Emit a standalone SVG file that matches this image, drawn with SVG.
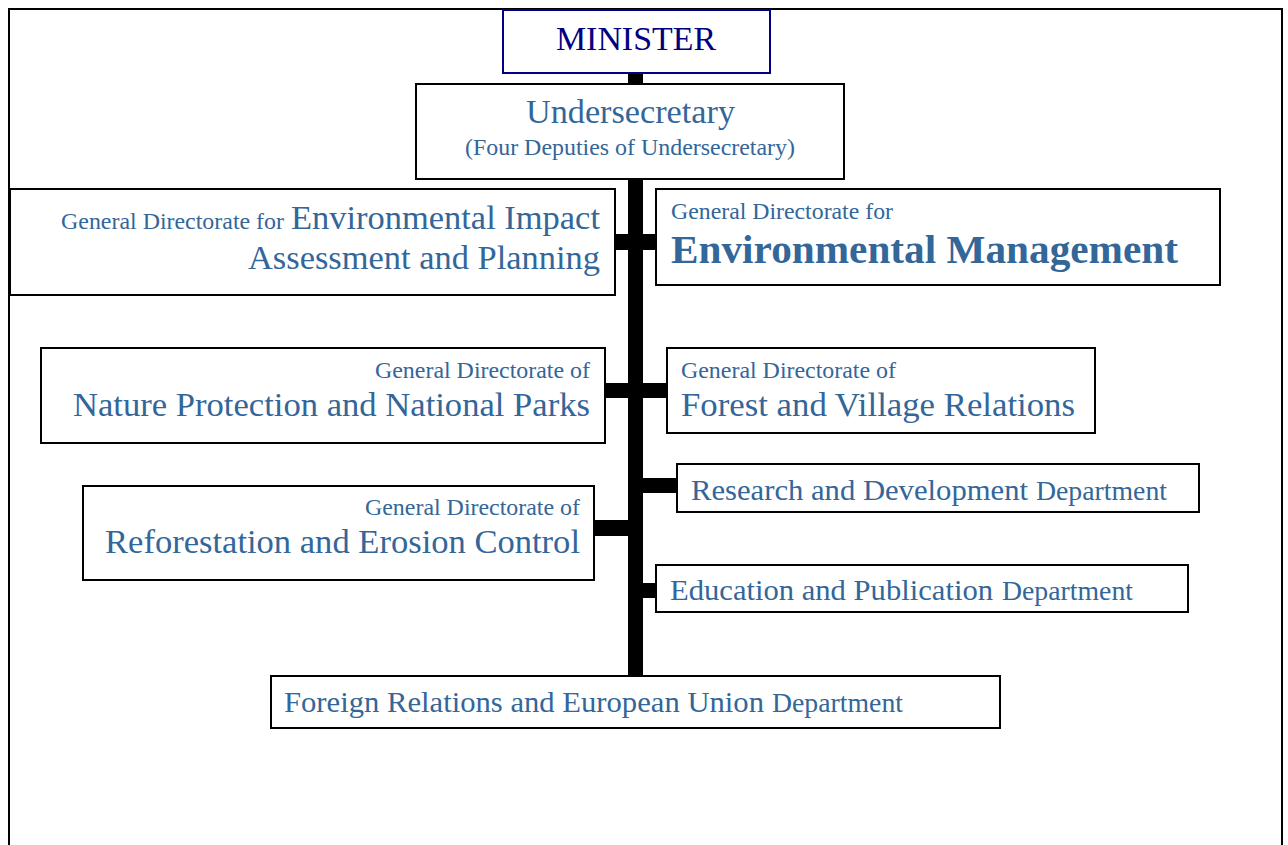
<svg xmlns="http://www.w3.org/2000/svg" width="1288" height="845" viewBox="0 0 1288 845">
<style>
.box{fill:#fff;stroke:#000;stroke-width:2}
.t{font-family:"Liberation Serif","Times New Roman",serif;fill:#336699}
.s{font-size:24px}
.l{font-size:34px}
.m{font-size:30px}
.d{font-size:27px}
.bar{fill:#000}
</style>
<rect x="0" y="0" width="1288" height="845" fill="#fff"/>
<rect x="9" y="9" width="1273" height="850" fill="none" stroke="#000" stroke-width="2"/>
<g id="connectors">
<rect class="bar" x="628" y="72" width="15" height="605"/>
<rect class="bar" x="614" y="234" width="43" height="16"/>
<rect class="bar" x="604" y="383" width="64" height="15"/>
<rect class="bar" x="642" y="478" width="36" height="15"/>
<rect class="bar" x="593" y="520" width="36" height="16"/>
<rect class="bar" x="642" y="583" width="15" height="15"/>
</g>
<g id="minister">
<rect x="503" y="10" width="267" height="63" fill="#fff" stroke="#000080" stroke-width="2"/>
<text x="556" y="50" textLength="160" lengthAdjust="spacingAndGlyphs" font-family="Liberation Serif, serif" font-size="33" fill="#000080">MINISTER</text>
</g>
<g id="undersecretary">
<rect class="box" x="416" y="84" width="428" height="95"/>
<text class="t l" x="526" y="123" textLength="209" lengthAdjust="spacingAndGlyphs">Undersecretary</text>
<text class="t s" x="465" y="155" textLength="330" lengthAdjust="spacingAndGlyphs">(Four Deputies of Undersecretary)</text>
</g>
<g id="eia">
<rect class="box" x="10" y="189" width="605" height="106"/>
<text class="t s" x="61" y="229" textLength="223" lengthAdjust="spacingAndGlyphs">General Directorate for</text>
<text class="t l" x="291" y="229" textLength="309" lengthAdjust="spacingAndGlyphs">Environmental Impact</text>
<text class="t l" x="248" y="269" textLength="352" lengthAdjust="spacingAndGlyphs">Assessment and Planning</text>
</g>
<g id="envmgmt">
<rect class="box" x="656" y="189" width="564" height="96"/>
<text class="t s" x="671" y="219" textLength="222" lengthAdjust="spacingAndGlyphs">General Directorate for</text>
<text class="t" x="671" y="263" font-size="40" font-weight="bold" textLength="507" lengthAdjust="spacingAndGlyphs">Environmental Management</text>
</g>
<g id="nature">
<rect class="box" x="41" y="348" width="564" height="95"/>
<text class="t s" x="375" y="378" textLength="215" lengthAdjust="spacingAndGlyphs">General Directorate of</text>
<text class="t l" x="73" y="416" textLength="517" lengthAdjust="spacingAndGlyphs">Nature Protection and National Parks</text>
</g>
<g id="forest">
<rect class="box" x="667" y="348" width="428" height="85"/>
<text class="t s" x="681" y="378" textLength="215" lengthAdjust="spacingAndGlyphs">General Directorate of</text>
<text class="t l" x="681" y="416" textLength="394" lengthAdjust="spacingAndGlyphs">Forest and Village Relations</text>
</g>
<g id="research">
<rect class="box" x="677" y="464" width="522" height="48"/>
<text class="t m" x="691" y="500" textLength="337" lengthAdjust="spacingAndGlyphs">Research and Development</text>
<text class="t d" x="1036" y="500" textLength="131" lengthAdjust="spacingAndGlyphs">Department</text>
</g>
<g id="reforestation">
<rect class="box" x="83" y="486" width="511" height="94"/>
<text class="t s" x="365" y="515" textLength="215" lengthAdjust="spacingAndGlyphs">General Directorate of</text>
<text class="t l" x="105" y="553" textLength="475" lengthAdjust="spacingAndGlyphs">Reforestation and Erosion Control</text>
</g>
<g id="education">
<rect class="box" x="656" y="565" width="532" height="47"/>
<text class="t m" x="670" y="600" textLength="323" lengthAdjust="spacingAndGlyphs">Education and Publication</text>
<text class="t d" x="1002" y="600" textLength="131" lengthAdjust="spacingAndGlyphs">Department</text>
</g>
<g id="foreign">
<rect class="box" x="271" y="676" width="729" height="52"/>
<text class="t m" x="284" y="712" textLength="480" lengthAdjust="spacingAndGlyphs">Foreign Relations and European Union</text>
<text class="t d" x="772" y="712" textLength="131" lengthAdjust="spacingAndGlyphs">Department</text>
</g>
</svg>
